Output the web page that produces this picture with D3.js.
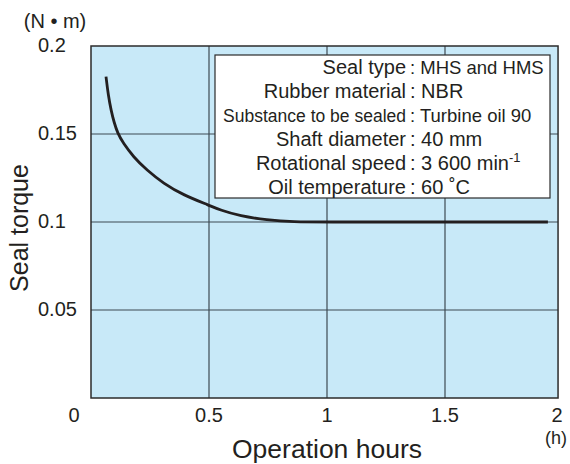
<!DOCTYPE html>
<html lang="en">
<head>
<meta charset="UTF-8">
<title>Seal torque</title>
<script src="https://cdn.jsdelivr.net/npm/d3@7/dist/d3.min.js"></script>
<style>
  body { margin: 0; background: #fff; }
  text { font-family: "Liberation Sans", Arial, Helvetica, sans-serif; fill: #231f20; }
</style>
</head>
<body>
<script>
// data
var hours  = [0.0636, 0.0729, 0.0856, 0.0975, 0.1123, 0.1369, 0.1792, 0.236, 0.3064, 0.3911, 0.5042, 0.5466, 0.6314, 0.7445, 0.8559, 1.0, 1.3, 1.6, 1.936];
var torque = [0.1826, 0.1722, 0.1631, 0.1568, 0.1506, 0.1447, 0.1371, 0.1295, 0.1220, 0.1153, 0.1093, 0.1068, 0.1034, 0.1011, 0.1000, 0.1, 0.1, 0.1, 0.1];
var xTicks = [0, 0.5, 1, 1.5, 2];
var yTicks = [0.05, 0.1, 0.15, 0.2];
var legendLabels = ["Seal type", "Rubber material", "Substance to be sealed", "Shaft diameter", "Rotational speed", "Oil temperature"];
var legendValues = ["MHS and HMS", "NBR", "Turbine oil 90", "40 mm", "3 600 min", "60 \u02daC"];

var w = 570, h = 464;
var svg = d3.select("body").append("svg").attr("width", w).attr("height", h);

var x = d3.scaleLinear().domain([0, 2]).range([91, 563]);
var y = d3.scaleLinear().domain([0, 0.2]).range([398, 46]);
var xEnd = 1.979;   // plot stops a bit short of 2

// background
svg.append("rect")
    .attr("x", x(0)).attr("y", y(0.2))
    .attr("width", x(xEnd) - x(0)).attr("height", y(0) - y(0.2))
    .attr("fill", "#c8e9f8");

// grid
svg.selectAll("line.gx")
    .data([0.5, 1, 1.5]).enter().append("line")
    .attr("x1", function (d) { return x(d); }).attr("x2", function (d) { return x(d); })
    .attr("y1", y(0.2)).attr("y2", y(0))
    .attr("stroke", "#3d4a52").attr("stroke-width", 1.2);
svg.selectAll("line.gy")
    .data([0.05, 0.1, 0.15]).enter().append("line")
    .attr("x1", x(0)).attr("x2", x(xEnd))
    .attr("y1", function (d) { return y(d); }).attr("y2", function (d) { return y(d); })
    .attr("stroke", "#3d4a52").attr("stroke-width", 1.2);

// frame
svg.append("rect")
    .attr("x", x(0)).attr("y", y(0.2))
    .attr("width", x(xEnd) - x(0)).attr("height", y(0) - y(0.2))
    .attr("fill", "none").attr("stroke", "#2b2b2b").attr("stroke-width", 1.5);

// legend box
var lg = svg.append("g");
lg.append("rect")
    .attr("x", 215).attr("y", 55).attr("width", 335).attr("height", 143)
    .attr("fill", "#fff").attr("stroke", "#2b2b2b").attr("stroke-width", 1.2);
legendLabels.forEach(function (lab, i) {
    var by = 74 + i * 23.9;
    lg.append("text")
        .attr("x", 406).attr("y", by)
        .attr("text-anchor", "end")
        .attr("font-size", i === 2 ? 17.5 : 20)
        .text(lab);
    var t = lg.append("text")
        .attr("x", 410).attr("y", by)
        .attr("font-size", (i === 0 || i === 2) ? 18.5 : 20)
        .text(": " + legendValues[i]);
    if (i === 4) {
        t.append("tspan").attr("dy", -8).attr("font-size", 13).text("-1");
    }
});

// curve
var line = d3.line()
    .x(function (d) { return x(d[0]); })
    .y(function (d) { return y(d[1]); })
    .curve(d3.curveBasis);
svg.append("path")
    .datum(d3.zip(hours, torque))
    .attr("d", line)
    .attr("fill", "none")
    .attr("stroke", "#231f20")
    .attr("stroke-width", 2.8);

// y tick labels
svg.selectAll("text.yt")
    .data(yTicks).enter().append("text")
    .attr("x", 38)
    .attr("y", function (d) { return y(d) + 6; })
    .attr("font-size", 20)
    .text(function (d) { return d; });

// x tick labels ("0" sits at the corner)
svg.selectAll("text.xt")
    .data(xTicks).enter().append("text")
    .attr("x", function (d) { return d === 0 ? x(d) - 17 : (d === 2 ? x(d) - 6 : x(d)); })
    .attr("y", 422)
    .attr("text-anchor", "middle")
    .attr("font-size", 20)
    .text(function (d) { return d; });

// units and titles
svg.append("text").attr("x", 55).attr("y", 28).attr("text-anchor", "middle")
    .attr("font-size", 20).text("(N \u2022 m)");
svg.append("text").attr("x", 556).attr("y", 444).attr("text-anchor", "middle")
    .attr("font-size", 18).text("(h)");
svg.append("text").attr("x", 327).attr("y", 458).attr("text-anchor", "middle")
    .attr("font-size", 26.5).text("Operation hours");
svg.append("text")
    .attr("transform", "translate(28,228) rotate(-90)")
    .attr("text-anchor", "middle")
    .attr("font-size", 25).text("Seal torque");
</script>
</body>
</html>
